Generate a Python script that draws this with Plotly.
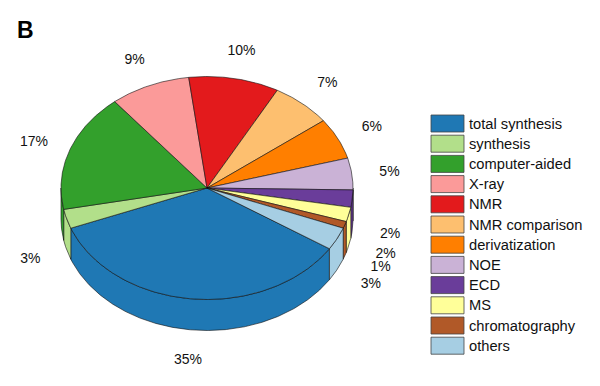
import numpy as np
import plotly.graph_objects as go

categories = ["total synthesis", "synthesis", "computer-aided", "X-ray", "NMR", "NMR comparison",
              "derivatization", "NOE", "ECD", "MS", "chromatography", "others"]
shares = [35.0, 2.8, 17.2, 8.9, 10.0, 6.7, 6.0, 4.6, 2.5, 2.1, 1.0, 3.3]
pct_labels = ["35%", "3%", "17%", "9%", "10%", "7%", "6%", "5%", "2%", "2%", "1%", "3%"]
colors = ["#1F78B4", "#B2DF8A", "#33A02C", "#FB9A99", "#E31A1C", "#FDBF6F",
          "#FF7F00", "#CAB2D6", "#6A3D9A", "#FFFF99", "#B15928", "#A6CEE3"]

W, H = 600, 386
CX, CY, RX, RY, DEPTH = 207.0, 188.0, 146.0, 111.5, 31.0
START = 327.0
LABEL_R = 1.26
LABEL_DY = 1.8
FONT = "Liberation Sans, Arial, sans-serif"
EDGE = dict(color="#111111", width=0.6)


def ex(t):
    return CX + RX * np.cos(np.radians(t))


def ey(t):
    return CY - RY * np.sin(np.radians(t))


sizes = np.array(shares) / sum(shares) * 360.0
ends = START - np.cumsum(sizes)
starts = ends + sizes

fig = go.Figure()

# visible outer wall (lower half of the ellipse only)
for lo, hi, col in zip(ends, starts, colors):
    for a, b in ((180.0, 360.0), (-180.0, 0.0)):
        l, h = max(lo, a), min(hi, b)
        if h <= l:
            continue
        t = np.linspace(l, h, max(3, int((h - l) * 2)))
        xs = np.concatenate([ex(t), ex(t[::-1]), ex(t[:1])])
        ys = np.concatenate([ey(t), ey(t[::-1]) + DEPTH, ey(t[:1])])
        fig.add_trace(go.Scatter(x=xs, y=ys, mode="lines", fill="toself", fillcolor=col,
                                 line=EDGE, hoverinfo="skip", showlegend=False))

# top face
for name, lo, hi, col, val in zip(categories, ends, starts, colors, pct_labels):
    t = np.linspace(hi, lo, max(3, int((hi - lo) * 2)))
    xs = np.concatenate([[CX], ex(t), [CX]])
    ys = np.concatenate([[CY], ey(t), [CY]])
    fig.add_trace(go.Scatter(x=xs, y=ys, mode="lines", fill="toself", fillcolor=col,
                             line=EDGE, name=name, text=val, hoverinfo="name+text",
                             showlegend=False))

# percentage labels
mids = (starts + ends) / 2
lx = CX + LABEL_R * RX * np.cos(np.radians(mids))
ly = CY - LABEL_R * RY * np.sin(np.radians(mids)) + np.where(np.sin(np.radians(mids)) < 0, DEPTH, 0) + LABEL_DY
fig.add_trace(go.Scatter(x=lx, y=ly, mode="text", text=pct_labels, textposition="middle center",
                         textfont=dict(family=FONT, size=14, color="#111111"),
                         hoverinfo="skip", showlegend=False))

# legend
LEG_X0, LEG_X1, LEG_Y0, LEG_H, LEG_STEP, LEG_TX = 431, 464, 115, 17, 20.2, 469
shapes = []
for i, col in enumerate(colors):
    y0 = LEG_Y0 + i * LEG_STEP
    shapes.append(dict(type="rect", xref="x", yref="y", x0=LEG_X0, x1=LEG_X1, y0=y0, y1=y0 + LEG_H,
                       fillcolor=col, line=dict(color="#444444", width=0.8), layer="above"))
fig.add_trace(go.Scatter(x=[LEG_TX] * len(categories),
                         y=[LEG_Y0 + i * LEG_STEP + LEG_H / 2 + 1.5 for i in range(len(categories))],
                         mode="text", text=categories, textposition="middle right",
                         textfont=dict(family=FONT, size=14.7, color="#111111"),
                         hoverinfo="skip", showlegend=False))

fig.update_layout(
    width=W, height=H, margin=dict(l=0, r=0, t=0, b=0),
    paper_bgcolor="white", plot_bgcolor="white", showlegend=False, shapes=shapes,
    xaxis=dict(range=[0, W], visible=False, fixedrange=True),
    yaxis=dict(range=[H, 0], visible=False, fixedrange=True),
    annotations=[dict(text="<b>B</b>", x=15, y=30, xref="x", yref="y", xanchor="left", yanchor="middle",
                      showarrow=False, font=dict(family=FONT, size=23, color="#000000"))],
)
fig.write_html("out.html", config={"displayModeBar": False},
               post_script="document.body.style.margin='0';document.documentElement.style.overflow='hidden';")
